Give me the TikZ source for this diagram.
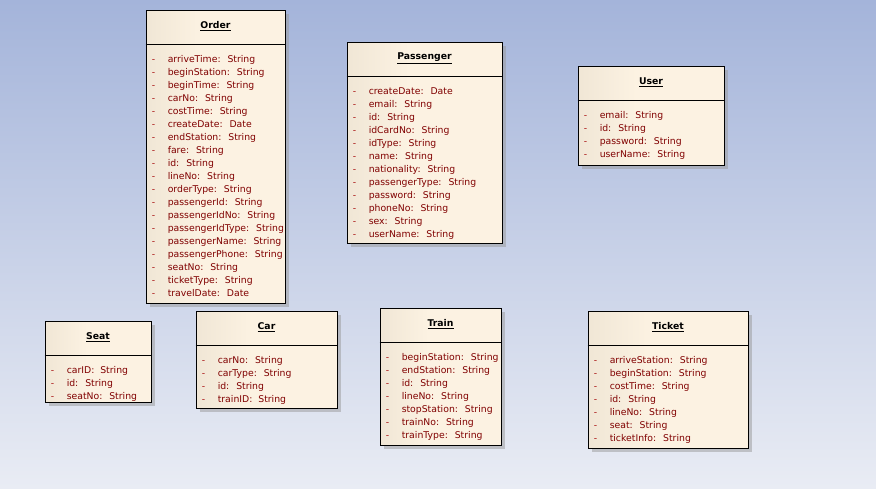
\documentclass[tikz,border=0pt]{standalone}
\usepackage{fontspec}
\setmainfont{DejaVu Sans}
\usetikzlibrary{shadows,positioning}
\definecolor{bgtop}{RGB}{164,180,218}
\definecolor{bgbot}{RGB}{233,236,244}
\definecolor{boxl}{RGB}{226,216,198}
\definecolor{boxr}{RGB}{252,242,226}
\definecolor{attrtext}{RGB}{128,0,0}
\definecolor{attrdash}{RGB}{170,20,20}
\pgfdeclarehorizontalshading{clsfill}{100bp}{color(0bp)=(boxl); color(45bp)=(boxr); color(100bp)=(boxr)}
\tikzstyle{every picture}=[x=1pt, y=1pt, font=\fontsize{9.3}{13}\selectfont]
\tikzstyle{cls}=[draw, line width=0.9pt, shading=clsfill, inner sep=0pt,%
	drop shadow={shadow xshift=3.5pt, shadow yshift=-3.5pt, fill=black!40, opacity=0.5}]
\tikzstyle{title}=[font=\fontsize{9.3}{13}\selectfont\bfseries]
\tikzstyle{attrs}=[anchor=north west, inner sep=0pt, text=attrtext]
\tikzstyle{sep}=[line width=0.9pt]
\newcommand{\attrow}[1]{\makebox[16pt][l]{\textcolor{attrdash}{-}}#1\\}

\begin{document}
\begin{tikzpicture}
	\shade[top color=bgtop, bottom color=bgbot] (0,0) rectangle (876,-488);
	\useasboundingbox (0,0) rectangle (876,-488);

	% Order
	\node (O) [cls, minimum width=139pt, minimum height=293pt] at (215.5,-156.5) {};
	\node (Ot) [title] at ([yshift=-16.5pt]O.north) {\underline{Order}};
	\draw[sep] ([yshift=-35pt]O.north west) -- ([yshift=-35pt]O.north east);
	\node (Oa) [attrs] at ([xshift=6pt,yshift=-44pt]O.north west) {%
		\begin{tabular}{@{}l@{}}
		\attrow{arriveTime:~ String}
		\attrow{beginStation:~ String}
		\attrow{beginTime:~ String}
		\attrow{carNo:~ String}
		\attrow{costTime:~ String}
		\attrow{createDate:~ Date}
		\attrow{endStation:~ String}
		\attrow{fare:~ String}
		\attrow{id:~ String}
		\attrow{lineNo:~ String}
		\attrow{orderType:~ String}
		\attrow{passengerId:~ String}
		\attrow{passengerIdNo:~ String}
		\attrow{passengerIdType:~ String}
		\attrow{passengerName:~ String}
		\attrow{passengerPhone:~ String}
		\attrow{seatNo:~ String}
		\attrow{ticketType:~ String}
		\attrow{travelDate:~ Date}
		\end{tabular}};

	% Passenger
	\node (P) [cls, minimum width=155pt, minimum height=201pt] at (424.5,-142.5) {};
	\node (Pt) [title] at ([yshift=-16.5pt]P.north) {\underline{Passenger}};
	\draw[sep] ([yshift=-35pt]P.north west) -- ([yshift=-35pt]P.north east);
	\node (Pa) [attrs] at ([xshift=6pt,yshift=-43.5pt]P.north west) {%
		\begin{tabular}{@{}l@{}}
		\attrow{createDate:~ Date}
		\attrow{email:~ String}
		\attrow{id:~ String}
		\attrow{idCardNo:~ String}
		\attrow{idType:~ String}
		\attrow{name:~ String}
		\attrow{nationality:~ String}
		\attrow{passengerType:~ String}
		\attrow{password:~ String}
		\attrow{phoneNo:~ String}
		\attrow{sex:~ String}
		\attrow{userName:~ String}
		\end{tabular}};

	% User
	\node (U) [cls, minimum width=146pt, minimum height=99pt] at (651,-115.5) {};
	\node (Ut) [title] at ([yshift=-16.5pt]U.north) {\underline{User}};
	\draw[sep] ([yshift=-35pt]U.north west) -- ([yshift=-35pt]U.north east);
	\node (Ua) [attrs] at ([xshift=6pt,yshift=-43.5pt]U.north west) {%
		\begin{tabular}{@{}l@{}}
		\attrow{email:~ String}
		\attrow{id:~ String}
		\attrow{password:~ String}
		\attrow{userName:~ String}
		\end{tabular}};

	% Seat
	\node (S) [cls, minimum width=106pt, minimum height=81pt] at (98,-361.5) {};
	\node (St) [title] at ([yshift=-16.5pt]S.north) {\underline{Seat}};
	\draw[sep] ([yshift=-35pt]S.north west) -- ([yshift=-35pt]S.north east);
	\node (Sa) [attrs] at ([xshift=6pt,yshift=-43.5pt]S.north west) {%
		\begin{tabular}{@{}l@{}}
		\attrow{carID:~ String}
		\attrow{id:~ String}
		\attrow{seatNo:~ String}
		\end{tabular}};

	% Car
	\node (C) [cls, minimum width=141pt, minimum height=97pt] at (266.5,-359.5) {};
	\node (Ct) [title] at ([yshift=-16.5pt]C.north) {\underline{Car}};
	\draw[sep] ([yshift=-35pt]C.north west) -- ([yshift=-35pt]C.north east);
	\node (Ca) [attrs] at ([xshift=6pt,yshift=-43.5pt]C.north west) {%
		\begin{tabular}{@{}l@{}}
		\attrow{carNo:~ String}
		\attrow{carType:~ String}
		\attrow{id:~ String}
		\attrow{trainID:~ String}
		\end{tabular}};

	% Train
	\node (T) [cls, minimum width=121pt, minimum height=137pt] at (440.5,-376.5) {};
	\node (Tt) [title] at ([yshift=-16.5pt]T.north) {\underline{Train}};
	\draw[sep] ([yshift=-35pt]T.north west) -- ([yshift=-35pt]T.north east);
	\node (Ta) [attrs] at ([xshift=6pt,yshift=-43.5pt]T.north west) {%
		\begin{tabular}{@{}l@{}}
		\attrow{beginStation:~ String}
		\attrow{endStation:~ String}
		\attrow{id:~ String}
		\attrow{lineNo:~ String}
		\attrow{stopStation:~ String}
		\attrow{trainNo:~ String}
		\attrow{trainType:~ String}
		\end{tabular}};

	% Ticket
	\node (K) [cls, minimum width=160pt, minimum height=137pt] at (668,-379.5) {};
	\node (Kt) [title] at ([yshift=-16.5pt]K.north) {\underline{Ticket}};
	\draw[sep] ([yshift=-35pt]K.north west) -- ([yshift=-35pt]K.north east);
	\node (Ka) [attrs] at ([xshift=6pt,yshift=-43.5pt]K.north west) {%
		\begin{tabular}{@{}l@{}}
		\attrow{arriveStation:~ String}
		\attrow{beginStation:~ String}
		\attrow{costTime:~ String}
		\attrow{id:~ String}
		\attrow{lineNo:~ String}
		\attrow{seat:~ String}
		\attrow{ticketInfo:~ String}
		\end{tabular}};
\end{tikzpicture}
\end{document}
